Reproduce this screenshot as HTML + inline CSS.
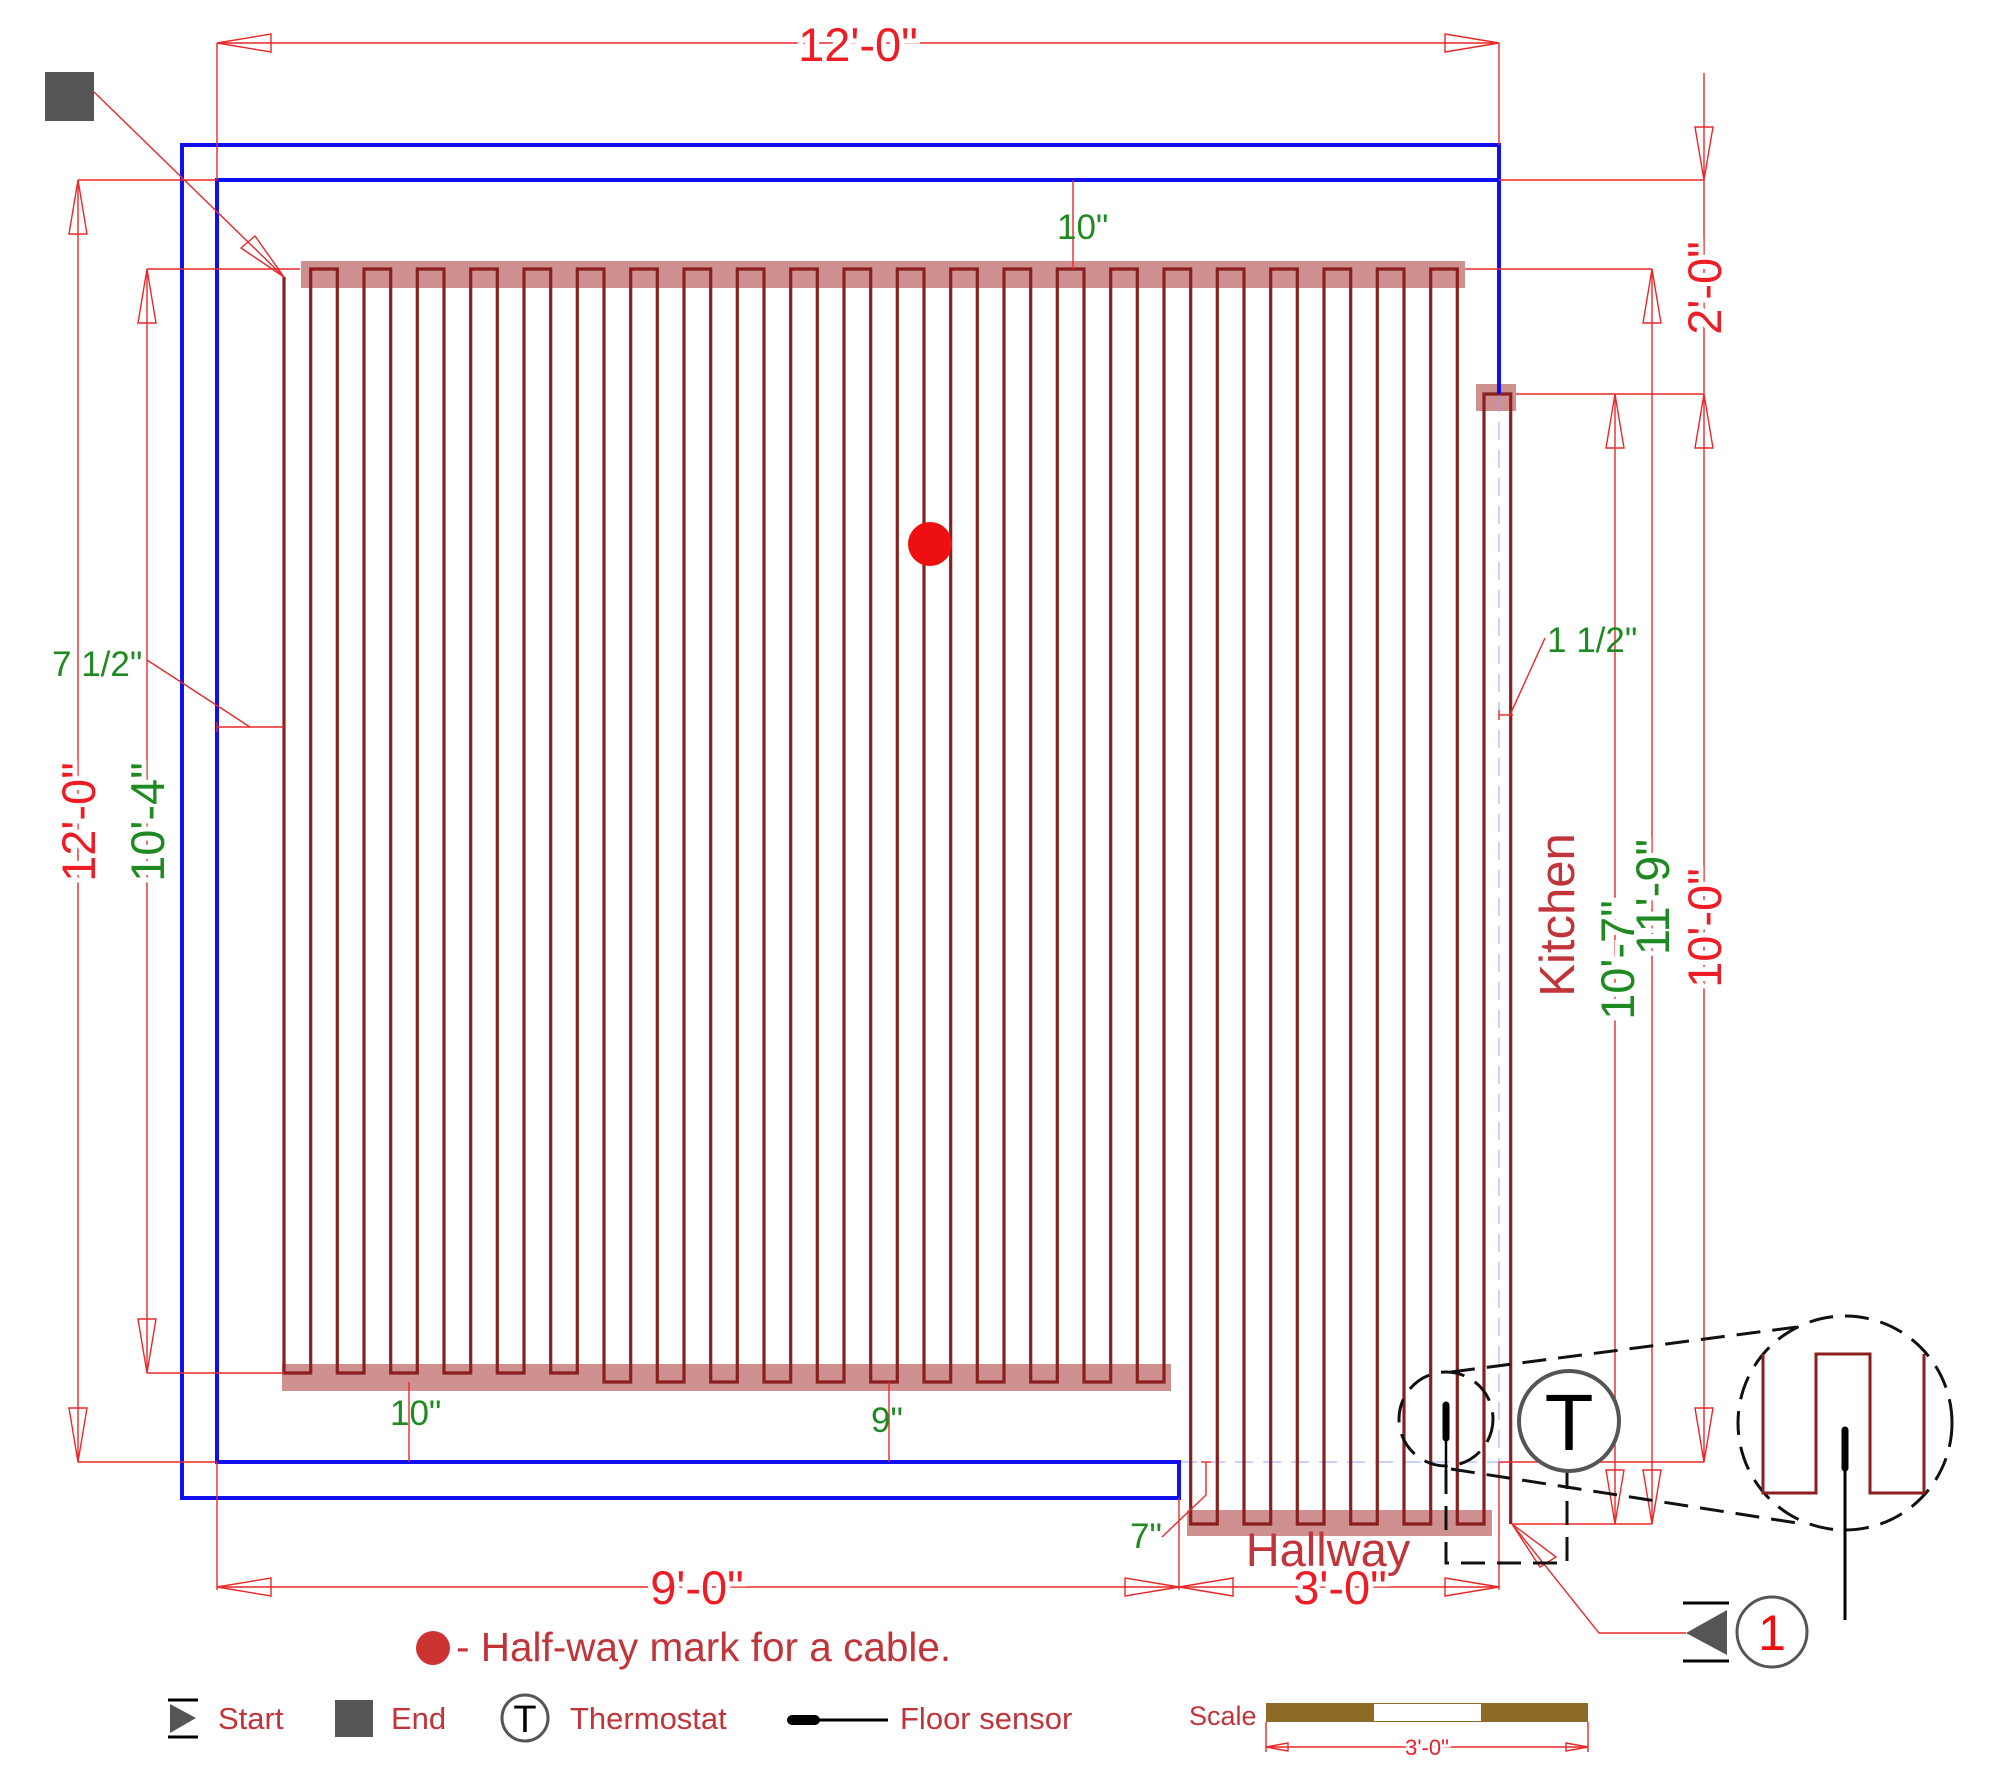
<!DOCTYPE html>
<html><head><meta charset="utf-8"><style>
html,body{margin:0;padding:0;background:#fff;}
svg{display:block;}
text{font-family:"Liberation Sans",Arial,sans-serif;}
.d{stroke:#e8282a;stroke-width:1.4;fill:none;}
.a{stroke:#e8282a;stroke-width:1.4;fill:none;}
.rt{fill:#ee1c24;font-size:47px;stroke:#fff;stroke-width:10;paint-order:stroke;}
.gt{fill:#1f8a22;font-size:47px;stroke:#fff;stroke-width:10;paint-order:stroke;}
.gs{fill:#1f8a22;font-size:35px;}
.dr{fill:#c0343a;}
</style></head><body>
<svg width="2000" height="1778" viewBox="0 0 2000 1778" xmlns="http://www.w3.org/2000/svg">
<g fill="#cf9090">
<rect x="301" y="261" width="1164" height="27"/>
<rect x="282" y="1364" width="889" height="27"/>
<rect x="1187" y="1510" width="305" height="26"/>
<rect x="1476" y="384" width="40" height="27"/>
</g>
<g stroke="#9aa0ff" stroke-width="1" stroke-dasharray="18,10" fill="none">
<line x1="1179" y1="1462" x2="1499" y2="1462"/>
<line x1="1499" y1="394" x2="1499" y2="1462"/>
</g>
<path fill="none" stroke="#8b1f1f" stroke-width="3.2" d="M284 277 V1373 H310.7 V269 H337.3 V1373 H364 V269 H390.7 V1373 H417.3 V269 H444 V1373 H470.7 V269 H497.3 V1373 H524 V269 H550.7 V1373 H577.3 V269 H604 V1382 H630.7 V269 H657.3 V1382 H684 V269 H710.7 V1382 H737.3 V269 H764 V1382 H790.7 V269 H817.3 V1382 H844 V269 H870.7 V1382 H897.3 V269 H924 V1382 H950.7 V269 H977.3 V1382 H1004 V269 H1030.7 V1382 H1057.3 V269 H1084 V1382 H1110.7 V269 H1137.3 V1382 H1164 V269 H1190.7 V1524 H1217.3 V269 H1244 V1524 H1270.7 V269 H1297.3 V1524 H1324 V269 H1350.7 V1524 H1377.3 V269 H1404 V1524 H1430.7 V269 H1457.3 V1524 H1484 V394 H1510.7 V1524"/>
<g stroke="#1010ee" stroke-width="4" fill="none">
<polyline points="1499,394 1499,145 182,145 182,1498 1179,1498 1179,1462 217,1462 217,180 1499,180"/>
</g>
<g class="d">
<line x1="217" y1="43" x2="1499" y2="43"/>
<line x1="217" y1="43" x2="217" y2="180"/>
<line x1="1499" y1="43" x2="1499" y2="145"/>
<line x1="78" y1="180" x2="78" y2="1462"/>
<line x1="78" y1="180" x2="217" y2="180"/>
<line x1="78" y1="1462" x2="217" y2="1462"/>
<line x1="147" y1="269" x2="147" y2="1373"/>
<line x1="147" y1="269" x2="300" y2="269"/>
<line x1="147" y1="1373" x2="284" y2="1373"/>
<polyline points="147,660 250,727 284,727"/>
<line x1="217" y1="727" x2="250" y2="727"/>
<line x1="217" y1="722" x2="217" y2="732"/>
<line x1="1073" y1="180" x2="1073" y2="269"/>
<line x1="409" y1="1382" x2="409" y2="1462"/>
<line x1="889" y1="1382" x2="889" y2="1462"/>
<polyline points="1206,1462 1206,1495 1162,1537"/>
<line x1="1201" y1="1462" x2="1211" y2="1462"/>
<line x1="217" y1="1587" x2="1499" y2="1587"/>
<line x1="217" y1="1462" x2="217" y2="1590"/>
<line x1="1179" y1="1498" x2="1179" y2="1590"/>
<line x1="1499" y1="1462" x2="1499" y2="1590"/>
<line x1="1704" y1="73" x2="1704" y2="1462"/>
<line x1="1499" y1="180" x2="1704" y2="180"/>
<line x1="1465" y1="269" x2="1652" y2="269"/>
<line x1="1516" y1="394" x2="1704" y2="394"/>
<line x1="1652" y1="269" x2="1652" y2="1524"/>
<line x1="1615" y1="394" x2="1615" y2="1524"/>
<line x1="1499" y1="1462" x2="1704" y2="1462"/>
<line x1="1512" y1="1524" x2="1652" y2="1524"/>
<polyline points="1545,638 1510,715"/>
<line x1="1499" y1="715" x2="1513" y2="715"/>
<line x1="1499" y1="710" x2="1499" y2="720"/>
<line x1="94" y1="92" x2="284" y2="277"/>
<polyline points="1512,1524 1599,1633 1686,1633"/>
</g>
<g class="a">
<polygon points="217,43 271,34 271,52"/>
<polygon points="1499,43 1445,34 1445,52"/>
<polygon points="78,180 69,234 87,234"/>
<polygon points="78,1462 69,1408 87,1408"/>
<polygon points="147,269 138,323 156,323"/>
<polygon points="147,1373 138,1319 156,1319"/>
<polygon points="217,1587 271,1578 271,1596"/>
<polygon points="1179,1587 1125,1578 1125,1596"/>
<polygon points="1179,1587 1233,1578 1233,1596"/>
<polygon points="1499,1587 1445,1578 1445,1596"/>
<polygon points="1704,180 1695,127 1713,127"/>
<polygon points="1704,394 1695,448 1713,448"/>
<polygon points="1704,1462 1695,1408 1713,1408"/>
<polygon points="1652,269 1643,323 1661,323"/>
<polygon points="1652,1524 1643,1470 1661,1470"/>
<polygon points="1615,394 1606,448 1624,448"/>
<polygon points="1615,1524 1606,1470 1624,1470"/>
<polygon points="284,277 241,248 255,236"/>
<polygon points="1512,1524 1540,1567 1556,1557"/>
</g>
<text class="rt" x="858" y="61" text-anchor="middle">12'-0"</text>
<text class="rt" transform="translate(95,822) rotate(-90)" text-anchor="middle">12'-0"</text>
<text class="gt" transform="translate(164,822) rotate(-90)" text-anchor="middle">10'-4"</text>
<text class="gs" x="52" y="676">7 1/2"</text>
<text class="gs" x="1057" y="239">10"</text>
<text class="gs" x="390" y="1425">10"</text>
<text class="gs" x="871" y="1432">9"</text>
<text class="gs" x="1130" y="1548">7"</text>
<text class="gs" x="1547" y="652">1 1/2"</text>
<text class="rt" x="697" y="1604" text-anchor="middle">9'-0"</text>
<text class="rt" x="1340" y="1604" text-anchor="middle">3'-0"</text>
<text class="rt" transform="translate(1721,288) rotate(-90)" text-anchor="middle">2'-0"</text>
<text class="rt" transform="translate(1721,928) rotate(-90)" text-anchor="middle">10'-0"</text>
<text class="gt" transform="translate(1669,897) rotate(-90)" text-anchor="middle">11'-9"</text>
<text class="gt" transform="translate(1634,960) rotate(-90)" text-anchor="middle">10'-7"</text>
<text class="dr" font-size="49" transform="translate(1574,915) rotate(-90)" text-anchor="middle">Kitchen</text>
<text class="dr" font-size="47" x="1328" y="1566" text-anchor="middle">Hallway</text>
<circle cx="930" cy="544" r="22" fill="#ee1010"/>
<rect x="45" y="72" width="49" height="49" fill="#555"/>
<g stroke="#111" stroke-width="3" fill="none" stroke-dasharray="24,12">
<circle cx="1446" cy="1419" r="47"/>
<circle cx="1845" cy="1423" r="107"/>
<line x1="1451" y1="1372" x2="1797" y2="1327"/>
<line x1="1451" y1="1469" x2="1797" y2="1523"/>
<polyline points="1446,1470 1446,1563 1567,1563 1567,1471"/>
</g>
<line x1="1446" y1="1405" x2="1446" y2="1438" stroke="#000" stroke-width="7" stroke-linecap="round"/>
<line x1="1446" y1="1438" x2="1446" y2="1470" stroke="#000" stroke-width="2.5"/>
<path d="M1763 1354 V1493 H1816 V1354 H1870 V1493 H1924 V1354" fill="none" stroke="#8b1f1f" stroke-width="3"/>
<line x1="1845" y1="1430" x2="1845" y2="1468" stroke="#000" stroke-width="7" stroke-linecap="round"/>
<line x1="1845" y1="1468" x2="1845" y2="1620" stroke="#000" stroke-width="3"/>
<circle cx="1569" cy="1421" r="50" fill="#fff" stroke="#555" stroke-width="4"/>
<text x="1569" y="1450" font-size="80" text-anchor="middle" fill="#000">T</text>
<polygon points="1686,1633 1727,1610 1727,1655" fill="#555"/>
<line x1="1683" y1="1603" x2="1729" y2="1603" stroke="#000" stroke-width="3"/>
<line x1="1683" y1="1661" x2="1729" y2="1661" stroke="#000" stroke-width="3"/>
<circle cx="1772" cy="1632" r="35" fill="#fff" stroke="#555" stroke-width="3"/>
<text x="1772" y="1650" font-size="50" text-anchor="middle" fill="#ee1010">1</text>
<circle cx="433" cy="1648" r="17" fill="#cc3333"/>
<text class="dr" font-size="40.5" x="456" y="1661">- Half-way mark for a cable.</text>
<line x1="168" y1="1700" x2="198" y2="1700" stroke="#000" stroke-width="3"/>
<line x1="168" y1="1737" x2="198" y2="1737" stroke="#000" stroke-width="3"/>
<polygon points="170,1704 196,1718 170,1733" fill="#555"/>
<text class="dr" font-size="31" x="218" y="1729">Start</text>
<rect x="335" y="1700" width="38" height="37" fill="#555"/>
<text class="dr" font-size="31" x="391" y="1729">End</text>
<circle cx="525" cy="1718" r="23" fill="#fff" stroke="#555" stroke-width="3"/>
<text x="525" y="1732" font-size="38" text-anchor="middle" fill="#000">T</text>
<text class="dr" font-size="31" x="570" y="1729">Thermostat</text>
<line x1="792" y1="1720" x2="815" y2="1720" stroke="#000" stroke-width="10" stroke-linecap="round"/>
<line x1="815" y1="1720" x2="888" y2="1720" stroke="#000" stroke-width="3"/>
<text class="dr" font-size="31" x="900" y="1729">Floor sensor</text>
<text class="dr" font-size="27" x="1189" y="1734" transform="translate(0,-9)">Scale</text>
<rect x="1266" y="1703" width="322" height="19" fill="#8b6b25"/>
<rect x="1374" y="1704" width="107" height="17" fill="#fff"/>
<g class="d">
<line x1="1266" y1="1722" x2="1266" y2="1752"/>
<line x1="1588" y1="1722" x2="1588" y2="1752"/>
<line x1="1266" y1="1747" x2="1588" y2="1747"/>
<polygon points="1266,1747 1288,1743 1288,1751"/>
<polygon points="1588,1747 1566,1743 1566,1751"/>
</g>
<text x="1427" y="1755" font-size="22" text-anchor="middle" fill="#ee1c24" stroke="#fff" stroke-width="6" paint-order="stroke">3'-0"</text>
</svg>
</body></html>
